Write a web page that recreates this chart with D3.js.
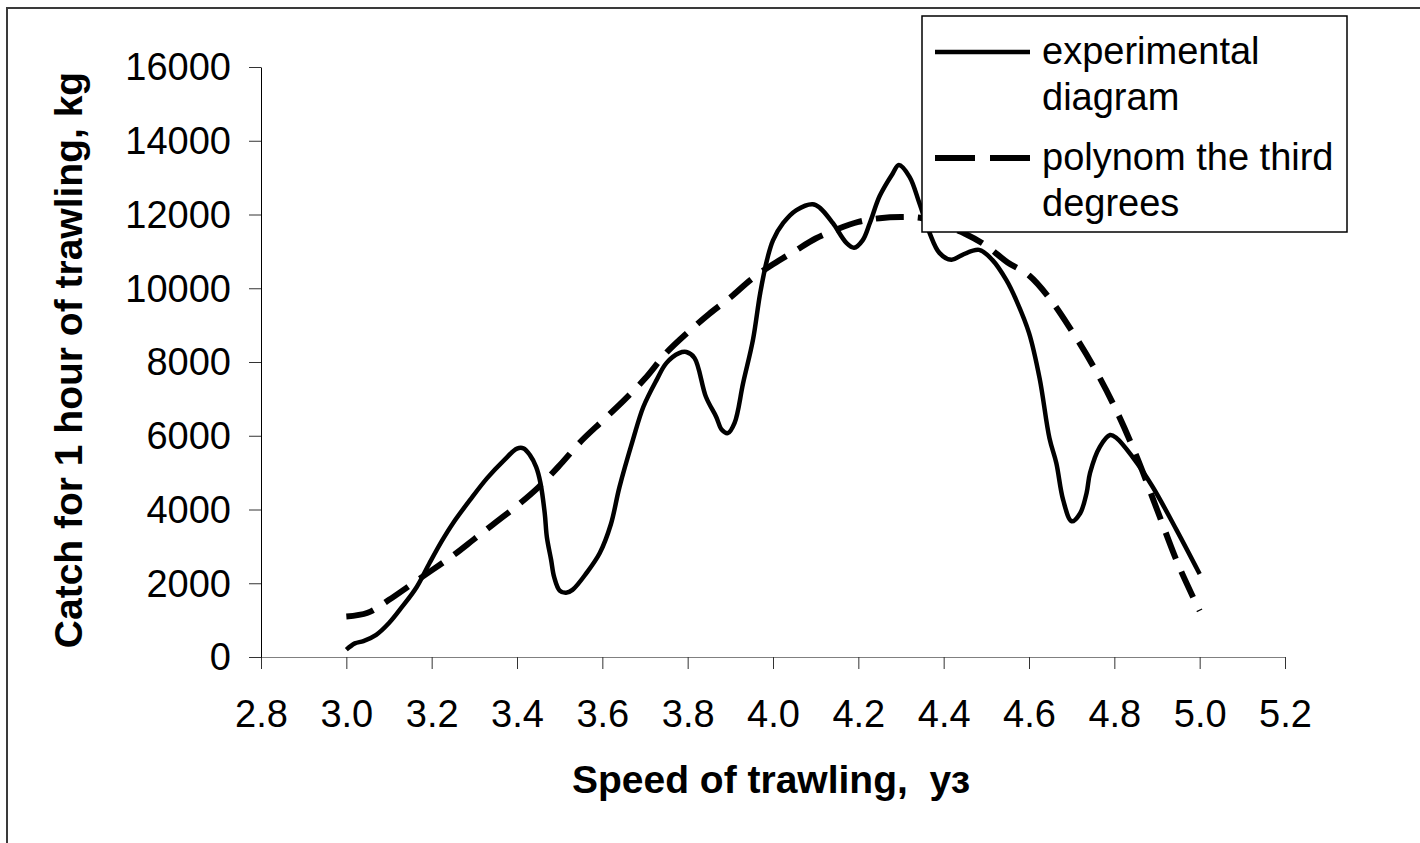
<!DOCTYPE html>
<html>
<head>
<meta charset="utf-8">
<script src="https://cdn.jsdelivr.net/npm/d3@7"></script>
<style>
  body { margin: 0; background: #fff; }
  svg { display: block; font-family: "Liberation Sans", Arial, sans-serif; }
</style>
</head>
<body>
<svg id="chart" width="1420" height="843"></svg>
<script>
// ---- data ----
let expSpeed = [3.00, 3.02, 3.04, 3.07, 3.10, 3.13, 3.165, 3.195, 3.225, 3.25, 3.29, 3.33, 3.37, 3.40, 3.415,
  3.43, 3.445, 3.455, 3.465, 3.47, 3.48, 3.487, 3.50, 3.515, 3.53, 3.563, 3.594, 3.62, 3.64, 3.672,
  3.696, 3.727, 3.75, 3.78, 3.797, 3.816, 3.843, 3.867, 3.88, 3.894, 3.91, 3.93, 3.953, 3.97, 3.986,
  4.00, 4.024, 4.055, 4.093, 4.11, 4.14, 4.172, 4.19, 4.21, 4.227, 4.25, 4.28, 4.295, 4.32, 4.343,
  4.367, 4.39, 4.418, 4.443, 4.483, 4.514, 4.547, 4.57, 4.60, 4.625, 4.648, 4.664, 4.68, 4.70, 4.72,
  4.735, 4.743, 4.766, 4.79, 4.805, 4.843, 4.89, 4.946, 5.00];
let expCatch = [200, 370, 430, 600, 920, 1350, 1900, 2550, 3170, 3630, 4260, 4850, 5340, 5650, 5660,
  5480, 5150, 4720, 3900, 3250, 2630, 2170, 1800, 1740, 1820, 2280, 2820, 3600, 4600, 5900,
  6780, 7510, 7970, 8240, 8270, 8110, 7050, 6510, 6160, 6070, 6350, 7430, 8600, 9870, 10770,
  11300, 11770, 12120, 12280, 12180, 11770, 11230, 11100, 11300, 11770, 12500, 13100, 13340, 13020, 12310,
  11500, 10960, 10770, 10900, 11040, 10770, 10220, 9680, 8790, 7550, 5930, 5260, 4260, 3680, 3900,
  4450, 4990, 5700, 6020, 5940, 5420, 4610, 3440, 2250];

let polySpeed = [3.00, 3.05, 3.10, 3.15, 3.20, 3.25, 3.30, 3.35, 3.40, 3.45, 3.50, 3.55, 3.60, 3.65, 3.70,
  3.75, 3.80, 3.85, 3.90, 3.95, 4.00, 4.05, 4.10, 4.15, 4.20, 4.25, 4.30, 4.35, 4.40, 4.45,
  4.50, 4.55, 4.60, 4.65, 4.70, 4.75, 4.80, 4.85, 4.90, 4.95, 5.00];
let polyCatch = [1100, 1200, 1550, 1950, 2350, 2750, 3200, 3650, 4100, 4600, 5200, 5850, 6400, 6950, 7550,
  8250, 8800, 9300, 9750, 10250, 10650, 11000, 11350, 11600, 11800, 11900, 11930, 11900, 11700, 11480,
  11150, 10700, 10350, 9700, 8850, 7900, 6800, 5500, 4000, 2500, 1250];

let xTicks = [2.8, 3.0, 3.2, 3.4, 3.6, 3.8, 4.0, 4.2, 4.4, 4.6, 4.8, 5.0, 5.2];
let yTicks = [0, 2000, 4000, 6000, 8000, 10000, 12000, 14000, 16000];

let legendNames = ["experimental|diagram", "polynom the third|degrees"];

// ---- layout ----
let svg = d3.select("#chart");
let margin = {top: 67, right: 135, bottom: 186, left: 261};
let width = 1420 - margin.left - margin.right,
    height = 843 - margin.top - margin.bottom;

// outer frame (right and bottom edges fall outside the picture)
svg.append("rect")
  .attr("x", 7).attr("y", 8)
  .attr("width", 1430).attr("height", 850)
  .attr("fill", "none").attr("stroke", "#3a3a3a").attr("stroke-width", 2);

let g = svg.append("g").attr("transform", "translate(" + margin.left + "," + margin.top + ")");

let x = d3.scaleLinear().domain([2.8, 5.2]).range([0, width]);
let y = d3.scaleLinear().domain([0, 16000]).range([height, 0]);

// axes
let xAxis = g.append("g")
  .attr("transform", "translate(0," + height + ")")
  .call(d3.axisBottom(x).tickValues(xTicks).tickSize(12).tickSizeOuter(0).tickPadding(31)
    .tickFormat(d3.format(".1f")));
xAxis.select(".domain").attr("stroke", "#808080");
xAxis.selectAll(".tick line").attr("stroke", "#333");
xAxis.selectAll("text").attr("font-size", 38).attr("fill", "#000")
  .attr("font-family", "Liberation Sans, Arial, sans-serif");

let yAxis = g.append("g")
  .call(d3.axisLeft(y).tickValues(yTicks).tickSize(12).tickSizeOuter(0).tickPadding(18)
    .tickFormat(d3.format("d")));
yAxis.select(".domain").attr("stroke", "#000");
yAxis.selectAll(".tick line").attr("stroke", "#333");
yAxis.selectAll("text").attr("font-size", 38).attr("fill", "#000").attr("dy", "0.34em")
  .attr("font-family", "Liberation Sans, Arial, sans-serif");

// axis titles
svg.append("text")
  .attr("x", 771).attr("y", 793)
  .attr("text-anchor", "middle")
  .attr("font-size", 39).attr("font-weight", "bold")
  .style("white-space", "pre")
  .text("Speed of trawling,  уз");

svg.append("text")
  .attr("transform", "translate(82,360) rotate(-90)")
  .attr("text-anchor", "middle")
  .attr("font-size", 39).attr("font-weight", "bold")
  .text("Catch for 1 hour of trawling, kg");

// lines
let expData = expSpeed.map((s, i) => [s, expCatch[i]]);
let polyData = polySpeed.map((s, i) => [s, polyCatch[i]]);

let line = d3.line()
  .x(d => x(d[0]))
  .y(d => y(d[1]))
  .curve(d3.curveCatmullRom.alpha(0.5));

g.append("path")
  .datum(polyData)
  .attr("d", line)
  .attr("fill", "none")
  .attr("stroke", "#000")
  .attr("stroke-width", 6)
  .attr("stroke-dasharray", "28,14");

g.append("path")
  .datum(expData)
  .attr("d", line)
  .attr("fill", "none")
  .attr("stroke", "#000")
  .attr("stroke-width", 4.5)
  .attr("stroke-linejoin", "round");

// legend
let lg = svg.append("g");
lg.append("rect")
  .attr("x", 922).attr("y", 16)
  .attr("width", 425).attr("height", 216)
  .attr("fill", "#fff").attr("stroke", "#000").attr("stroke-width", 1.5);

let legendY = [52, 158];
let legendBase = [64, 170];
legendNames.forEach(function(name, i) {
  let ly = legendY[i];
  let l = lg.append("line")
    .attr("x1", 935).attr("x2", 1030)
    .attr("y1", ly).attr("y2", ly)
    .attr("stroke", "#000").attr("stroke-width", i == 0 ? 4.5 : 6);
  if (i == 1) l.attr("stroke-dasharray", "40,15");
  let parts = name.split("|");
  let t = lg.append("text")
    .attr("x", 1042).attr("y", legendBase[i])
    .attr("font-size", 38);
  t.append("tspan").attr("x", 1042).text(parts[0]);
  t.append("tspan").attr("x", 1042).attr("dy", 46).text(parts[1]);
});
</script>
</body>
</html>
